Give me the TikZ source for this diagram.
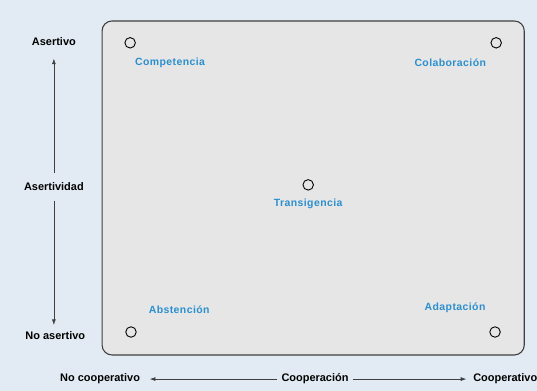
\documentclass[tikz,border=0pt]{standalone}
\usepackage{fontspec}
\setmainfont{Liberation Sans}
\usepackage{xcolor}
\usepackage{tikz}
\usetikzlibrary{positioning, arrows.meta}

\definecolor{fondo}{HTML}{E2EBF3}
\definecolor{caja}{HTML}{E6E6E6}
\definecolor{azul}{HTML}{2A8FD2}

\begin{document}
\begin{tikzpicture}[
      font=\fontsize{11}{13}\selectfont\bfseries,
      eje/.style={inner sep=1pt, align=center},
      modo/.style={draw, circle, minimum size=0.37cm, inner sep=0pt, line width=0.9pt},
      lbl/.style={text=azul, inner sep=1pt, font=\fontsize{10.5}{12}\selectfont\bfseries\addfontfeature{LetterSpace=4}},
      arr/.style={-{Latex[length=2mm, width=1.4mm]}, draw=gray!50!black, line width=0.7pt}
    ]
    %% fondo y marco
    \fill[fondo] (0,0) rectangle (18.94,13.79);
    \useasboundingbox (0,0) rectangle (18.94,13.79);
    \draw[fill=caja, draw=black!75, line width=1.1pt, rounded corners=0.35cm] (3.60,1.27) rectangle (18.49,13.05);
    %% modos
    \node[modo] (comp)  at (4.59,12.28) {};
    \node[modo] (cola)  at (17.50,12.28) {};
    \node[modo] (trans) at (10.87,7.27) {};
    \node[modo] (abst)  at (4.62,2.08) {};
    \node[modo] (adap)  at (17.46,2.08) {};
    \node[lbl] (compl)  at (6.00,11.57) {Competencia};
    \node[lbl] (colal)  at (15.88,11.57) {Colaboración};
    \node[lbl, below=2.5mm of trans] (transl) {Transigencia};
    \node[lbl] (abstl)  at (6.32,2.86) {Abstención};
    \node[lbl] (adapl)  at (16.05,2.93) {Adaptación};
    %% eje vertical
    \node[eje] (asertivo) at (1.90,12.31) {Asertivo};
    \node[eje] (asert)    at (1.90,7.20)  {Asertividad};
    \node[eje] (noasert)  at (1.95,1.94)  {No asertivo};
    \draw[arr, shorten <=3mm, shorten >=4mm] (asert) -- (asertivo);
    \draw[arr, shorten <=3mm, shorten >=2mm] (asert) -- (asert |- noasert.north);
    %% eje horizontal
    \node[eje] (nocoop) at (3.53,0.42) {No cooperativo};
    \node[eje] (coop)   at (11.11,0.42) {Cooperación};
    \node[eje, anchor=west] (coopv) at (16.65,0.42) {Cooperativo};
    \draw[arr, shorten <=1mm, shorten >=3mm] (coop) -- (nocoop);
    \draw[arr, shorten <=1mm, shorten >=2mm] (coop) -- (coopv);
  \end{tikzpicture}
\end{document}
